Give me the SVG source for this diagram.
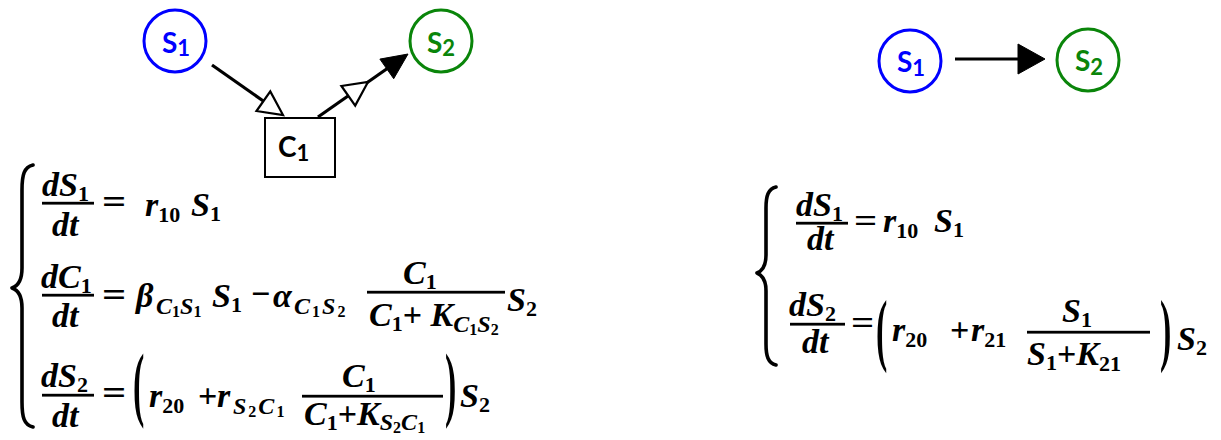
<svg xmlns="http://www.w3.org/2000/svg" width="1221" height="440" viewBox="0 0 1221 440">
<defs>
<style>
.m{font-weight:bold;font-size:34px;fill:#000}
.i{font-style:italic}
.o{font-style:normal}
.s{font-size:22px}
.sl{font-size:24px}
.ss{font-size:16px}
.lbl{font-weight:bold;font-size:28px}
.sub{font-size:22px}
.blue{fill:#fff;stroke:#0000ff;stroke-width:3}
.green{fill:#fff;stroke:#0a850a;stroke-width:3}
.edge{stroke:#000;stroke-width:3.2;fill:none}
.open{fill:#fff;stroke:#000;stroke-width:2.2}
.fill{fill:#000;stroke:#000;stroke-width:1}
.brace{fill:none;stroke:#000;stroke-width:3.6;stroke-linecap:round;stroke-linejoin:round}
</style>
</defs>
<rect width="1221" height="440" fill="#fff"/>

<g id="connectors-left">
  <line class="edge" x1="212" y1="65" x2="264" y2="101.5"/>
  <polygon class="open" points="256.5,111 270.3,91.4 283,115"/>
  <line class="edge" x1="318" y1="117" x2="388" y2="68"/>
  <polygon class="open" points="355.2,105.6 341.4,86 368,82"/>
  <polygon class="fill" points="393.7,78.7 379.9,59.1 408,54"/>
</g>
<g id="node-S1-left" font-family="Lato, 'Liberation Sans', sans-serif">
  <circle class="blue" cx="175" cy="41" r="31"/>
  <text class="lbl" x="162" y="53" fill="#0000ff">S<tspan class="sub" dy="3">1</tspan></text>
</g>
<g id="node-S2-left" font-family="Lato, 'Liberation Sans', sans-serif">
  <circle class="green" cx="441" cy="41" r="31"/>
  <text class="lbl" x="427" y="53" fill="#0a850a">S<tspan class="sub" dy="3">2</tspan></text>
</g>
<g id="node-C1" font-family="Lato, 'Liberation Sans', sans-serif">
  <rect x="265" y="118" width="70" height="59" fill="#fff" stroke="#000" stroke-width="2"/>
  <text class="lbl" x="278" y="157" fill="#000">C<tspan class="sub" dy="4">1</tspan></text>
</g>

<g id="connectors-right">
  <line class="edge" x1="955" y1="59" x2="1022" y2="59"/>
  <polygon class="fill" points="1018,44 1045,59 1018,74"/>
</g>
<g id="node-S1-right" font-family="Lato, 'Liberation Sans', sans-serif">
  <circle class="blue" cx="910" cy="61" r="31"/>
  <text class="lbl" x="897" y="72" fill="#0000ff">S<tspan class="sub" dy="4">1</tspan></text>
</g>
<g id="node-S2-right" font-family="Lato, 'Liberation Sans', sans-serif">
  <circle class="green" cx="1088" cy="60" r="31"/>
  <text class="lbl" x="1075" y="71" fill="#0a850a">S<tspan class="sub" dy="4">2</tspan></text>
</g>

<g id="eq-left" font-family="'Liberation Serif', serif">
  <path class="brace" d="M33 165 C24 167 22 175 22 190 L22 268 C22 280 18 286 12 288 C18 290 22 296 22 308 L22 402 C22 417 24 425 33 427"/>
  <text class="m i" x="42" y="196">dS<tspan class="s o" dy="5">1</tspan></text>
  <rect x="42" y="201.8" width="52" height="2.8"/>
  <text class="m i" x="52" y="236">dt</text>
  <text class="m" transform="translate(102,213) scale(1.25,1)">=</text>
  <text class="m i" x="145" y="216">r<tspan class="s o" dy="6">10</tspan></text>
  <text class="m i" x="191" y="216">S<tspan class="s o" dy="5">1</tspan></text>

  <text class="m i" x="41" y="288">dC<tspan class="s o" dy="5">1</tspan></text>
  <rect x="42" y="293.8" width="52" height="2.8"/>
  <text class="m i" x="52" y="327">dt</text>
  <text class="m" transform="translate(102,306) scale(1.25,1)">=</text>
  <text class="m i" x="136" y="307">β<tspan class="sl" x="156" dy="7">C</tspan><tspan class="ss o" dy="3">1</tspan><tspan class="sl" dy="-3">S</tspan><tspan class="ss o" dy="3">1</tspan><tspan x="212" dy="-10">S</tspan><tspan class="s o" dy="5">1</tspan></text>
  <text class="m" x="251" y="305">−</text>
  <text class="m i" x="273" y="307">α<tspan class="sl" x="294" dy="7" letter-spacing="2">C</tspan><tspan class="ss o" dy="3" letter-spacing="2">1</tspan><tspan class="sl" dy="-3" letter-spacing="2">S</tspan><tspan class="ss o" dy="3">2</tspan></text>
  <text class="m i" x="403" y="284">C<tspan class="s o" dy="5">1</tspan></text>
  <rect x="367" y="290.8" width="138" height="2.8"/>
  <text class="m i" x="369" y="326">C<tspan class="s o" dy="5">1</tspan><tspan class="o" dy="-5">+ </tspan>K<tspan class="sl" dy="6">C</tspan><tspan class="ss o" dy="3">1</tspan><tspan class="sl" dy="-3">S</tspan><tspan class="ss o" dy="3">2</tspan></text>
  <text class="m i" x="507" y="311">S<tspan class="s o" dy="5">2</tspan></text>

  <text class="m i" x="41" y="387">dS<tspan class="s o" dy="5">2</tspan></text>
  <rect x="42" y="393.8" width="52" height="2.8"/>
  <text class="m i" x="52" y="427">dt</text>
  <text class="m" transform="translate(102,404) scale(1.25,1)">=</text>
  <text class="m" transform="translate(133,411) scale(1,2.4)">(</text>
  <text class="m i" x="149" y="407">r<tspan class="s o" dy="6">20</tspan></text>
  <text class="m" x="198" y="407">+</text>
  <text class="m i" x="217" y="407">r<tspan class="sl" x="233" dy="7" letter-spacing="2">S</tspan><tspan class="ss o" dy="3" letter-spacing="2">2</tspan><tspan class="sl" dy="-3" letter-spacing="2">C</tspan><tspan class="ss o" dy="3">1</tspan></text>
  <text class="m i" x="342" y="387">C<tspan class="s o" dy="5">1</tspan></text>
  <rect x="302" y="394.8" width="141" height="2.8"/>
  <text class="m i" x="304" y="425">C<tspan class="s o" dy="5">1</tspan><tspan class="o" dy="-5">+</tspan>K<tspan class="sl" dy="5">S</tspan><tspan class="ss o" dy="3">2</tspan><tspan class="sl" dy="-3">C</tspan><tspan class="ss o" dy="3">1</tspan></text>
  <text class="m" transform="translate(445,411) scale(1,2.4)">)</text>
  <text class="m i" x="460" y="407">S<tspan class="s o" dy="5">2</tspan></text>
</g>

<g id="eq-right" font-family="'Liberation Serif', serif">
  <path class="brace" d="M776 187 C768 189 766 196 766 208 L766 255 C766 266 762 271 757 273 C762 275 766 280 766 291 L766 344 C766 356 768 363 776 365"/>
  <text class="m i" x="796" y="216">dS<tspan class="s o" dy="5">1</tspan></text>
  <rect x="796" y="221.8" width="52" height="2.8"/>
  <text class="m i" x="807" y="250">dt</text>
  <text class="m" transform="translate(854,232) scale(1.2,1)">=</text>
  <text class="m i" x="883" y="232">r<tspan class="s o" dy="6">10</tspan></text>
  <text class="m i" x="934" y="232">S<tspan class="s o" dy="5">1</tspan></text>

  <text class="m i" x="789" y="316">dS<tspan class="s o" dy="5">2</tspan></text>
  <rect x="790" y="322.8" width="55" height="2.8"/>
  <text class="m i" x="802" y="353">dt</text>
  <text class="m" transform="translate(851,334) scale(1.2,1)">=</text>
  <text class="m" transform="translate(876,356) scale(1,2.35)">(</text>
  <text class="m i" x="892" y="341">r<tspan class="s o" dy="6">20</tspan></text>
  <text class="m" x="950" y="341">+</text>
  <text class="m i" x="971" y="341">r<tspan class="s o" dy="6">21</tspan></text>
  <text class="m i" x="1062" y="322">S<tspan class="s o" dy="5">1</tspan></text>
  <rect x="1027" y="330.8" width="123" height="2.8"/>
  <text class="m i" x="1027" y="365">S<tspan class="s o" dy="5">1</tspan><tspan class="o" dy="-5">+</tspan>K<tspan class="s o" dy="6">21</tspan></text>
  <text class="m" transform="translate(1160,356) scale(1,2.35)">)</text>
  <text class="m i" x="1177" y="350">S<tspan class="s o" dy="5">2</tspan></text>
</g>
</svg>
